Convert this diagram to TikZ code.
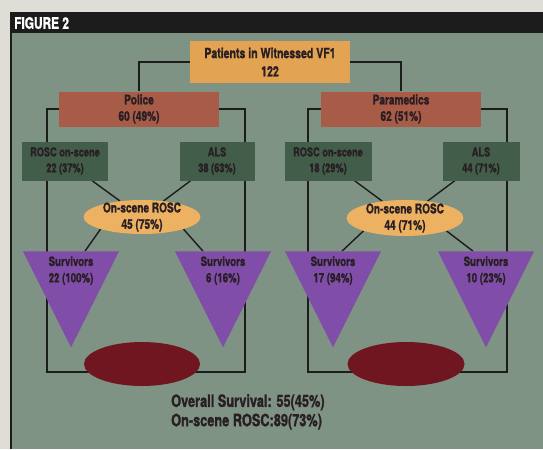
\documentclass[tikz,border=0pt]{standalone}
\usepackage{fontspec}
\setmainfont{TeX Gyre Heros}[FakeStretch=0.75,BoldFeatures={FakeBold=1.2}]
\usepackage{tikz}
\usetikzlibrary{positioning,shapes.geometric,backgrounds}
\usepackage{xcolor}
\definecolor{fgpaper}{RGB}{222,222,214}
\definecolor{fgpanel}{RGB}{126,147,131}
\definecolor{fghead}{RGB}{28,28,28}
\definecolor{fgorange}{RGB}{226,163,82}
\definecolor{fgbrick}{RGB}{168,92,72}
\definecolor{fggreen}{RGB}{66,94,74}
\definecolor{fgamber}{RGB}{236,178,98}
\definecolor{fgpurple}{RGB}{128,78,168}
\definecolor{fgmaroon}{RGB}{112,22,32}
\definecolor{fgink}{RGB}{40,30,35}
\tikzset{
    box/.style={
        fill=#1,align=center,text=fgink,inner sep=1pt,
        font=\fontsize{11.5}{14}\selectfont\bfseries
    },
    box/.default=fgbrick,
    oval/.style={
        ellipse,fill=#1,align=center,text=fgink,
        inner xsep=2pt,inner ysep=-3pt,
        font=\fontsize{11.5}{14}\selectfont\bfseries
    },
    oval/.default=fgamber,
    tri/.style={
        isosceles triangle,isosceles triangle stretches,
        shape border rotate=270,fill=fgpurple,inner sep=0pt,
        minimum width=2.88cm,minimum height=2.88cm
    },
    tritext/.style={
        align=center,text=fgink,inner sep=0pt,
        font=\fontsize{11}{14}\selectfont\bfseries
    },
    wire/.style={line width=1.2pt,draw=fghead}
}
\begin{document}
\begin{tikzpicture}[x=0.03cm,y=-0.03cm]
\useasboundingbox (0,0) rectangle (543,449);

\node[anchor=west,text=white,inner sep=0pt,
font=\fontsize{13.5}{13.5}\selectfont\bfseries] (fig) at (14,23) {FIGURE 2};

\node[box=fgorange,minimum width=4.8cm,minimum height=1.26cm,
font=\fontsize{12}{15.5}\selectfont\bfseries]
(pat) at (270,62) {Patients in Witnessed VF1\\122};

\node[box,minimum width=4.8cm,minimum height=1.05cm] (pol) at (139,109) {Police\\60 (49\%)};
\node[box,minimum width=4.8cm,minimum height=1.05cm] (par) at (401,109) {Paramedics\\62 (51\%)};

\node[box=fggreen,minimum width=2.58cm,minimum height=1.17cm,
font=\fontsize{10.5}{13.5}\selectfont\bfseries] (ros1) at (65,161) {ROSC on-scene\\22 (37\%)};
\node[box=fggreen,minimum width=2.25cm,minimum height=1.17cm,
font=\fontsize{10.5}{13.5}\selectfont\bfseries] (als1) at (217,161) {ALS\\38 (63\%)};
\node[box=fggreen,minimum width=2.61cm,minimum height=1.17cm,
font=\fontsize{10.5}{13.5}\selectfont\bfseries] (ros2) at (328,161) {ROSC on-scene\\18 (29\%)};
\node[box=fggreen,minimum width=2.31cm,minimum height=1.17cm,
font=\fontsize{10.5}{13.5}\selectfont\bfseries] (als2) at (481,161) {ALS\\44 (71\%)};

\node[oval,minimum width=3.45cm,minimum height=1.02cm] (osr1) at (142,217) {On-scene ROSC\\45 (75\%)};
\node[oval,minimum width=3.45cm,minimum height=1.08cm] (osr2) at (405,218) {On-scene ROSC\\44 (71\%)};

\node[tri,anchor=apex] (sv1) at (71,348) {};
\node[tri,anchor=apex] (sv2) at (223,348) {};
\node[tri,anchor=apex] (sv3) at (333,348) {};
\node[tri,anchor=apex] (sv4) at (486,348) {};
\node[tritext,below=0.15cm of sv1.north] (sv1t) {Survivors\\22 (100\%)};
\node[tritext,below=0.15cm of sv2.north] (sv2t) {Survivors\\6 (16\%)};
\node[tritext,below=0.15cm of sv3.north] (sv3t) {Survivors\\17 (94\%)};
\node[tritext,below=0.15cm of sv4.north] (sv4t) {Survivors\\10 (23\%)};

\node[oval=fgmaroon,inner sep=0pt,minimum width=3.48cm,minimum height=1.32cm] (bs1) at (142,364) {};
\node[oval=fgmaroon,inner sep=0pt,minimum width=3.51cm,minimum height=1.32cm] (bs2) at (406,364) {};

\node[anchor=north west,align=left,text=fgink,inner sep=0pt,
font=\fontsize{14.5}{16.5}\selectfont\bfseries]
(sum) at (171,394) {Overall Survival: 55(45\%)\\On-scene ROSC:89(73\%)};

\coordinate (c1) at (47,372);
\coordinate (c2) at (245,372);
\coordinate (c3) at (308,372);
\coordinate (c4) at (507,372);

\begin{pgfonlayer}{background}
\fill[fgpaper] (0,0) rectangle (543,449);
\fill[fgpanel] (10,12) rectangle (543,449);
\fill[fghead] (10,12) rectangle (543,33);
\draw[fghead,line width=1.6pt] (11,33) -- (11,449);
\draw[wire] (pat.west) -| (pol.north);
\draw[wire] (pat.east) -| (par.north);
\draw[wire] (pol.west) -| (c1) -- (c1 -| bs1);
\draw[wire] (pol.east) -| (c2) -- (c2 -| bs1);
\draw[wire] (par.west) -| (c3) -- (c3 -| bs2);
\draw[wire] (par.east) -| (c4) -- (c4 -| bs2);
\draw[wire] (ros1) -- (osr1);
\draw[wire] (als1) -- (osr1);
\draw[wire] (ros2) -- (osr2);
\draw[wire] (als2) -- (osr2);
\draw[wire] (osr1.south west) -- ([xshift=0.42cm]sv1.north);
\draw[wire] (osr1.south east) -- ([xshift=-0.6cm]sv2.north);
\draw[wire] (osr2.south west) -- ([xshift=0.27cm]sv3.north);
\draw[wire] (osr2.south east) -- ([xshift=-0.39cm]sv4.north);
\end{pgfonlayer}
\end{tikzpicture}
\end{document}
